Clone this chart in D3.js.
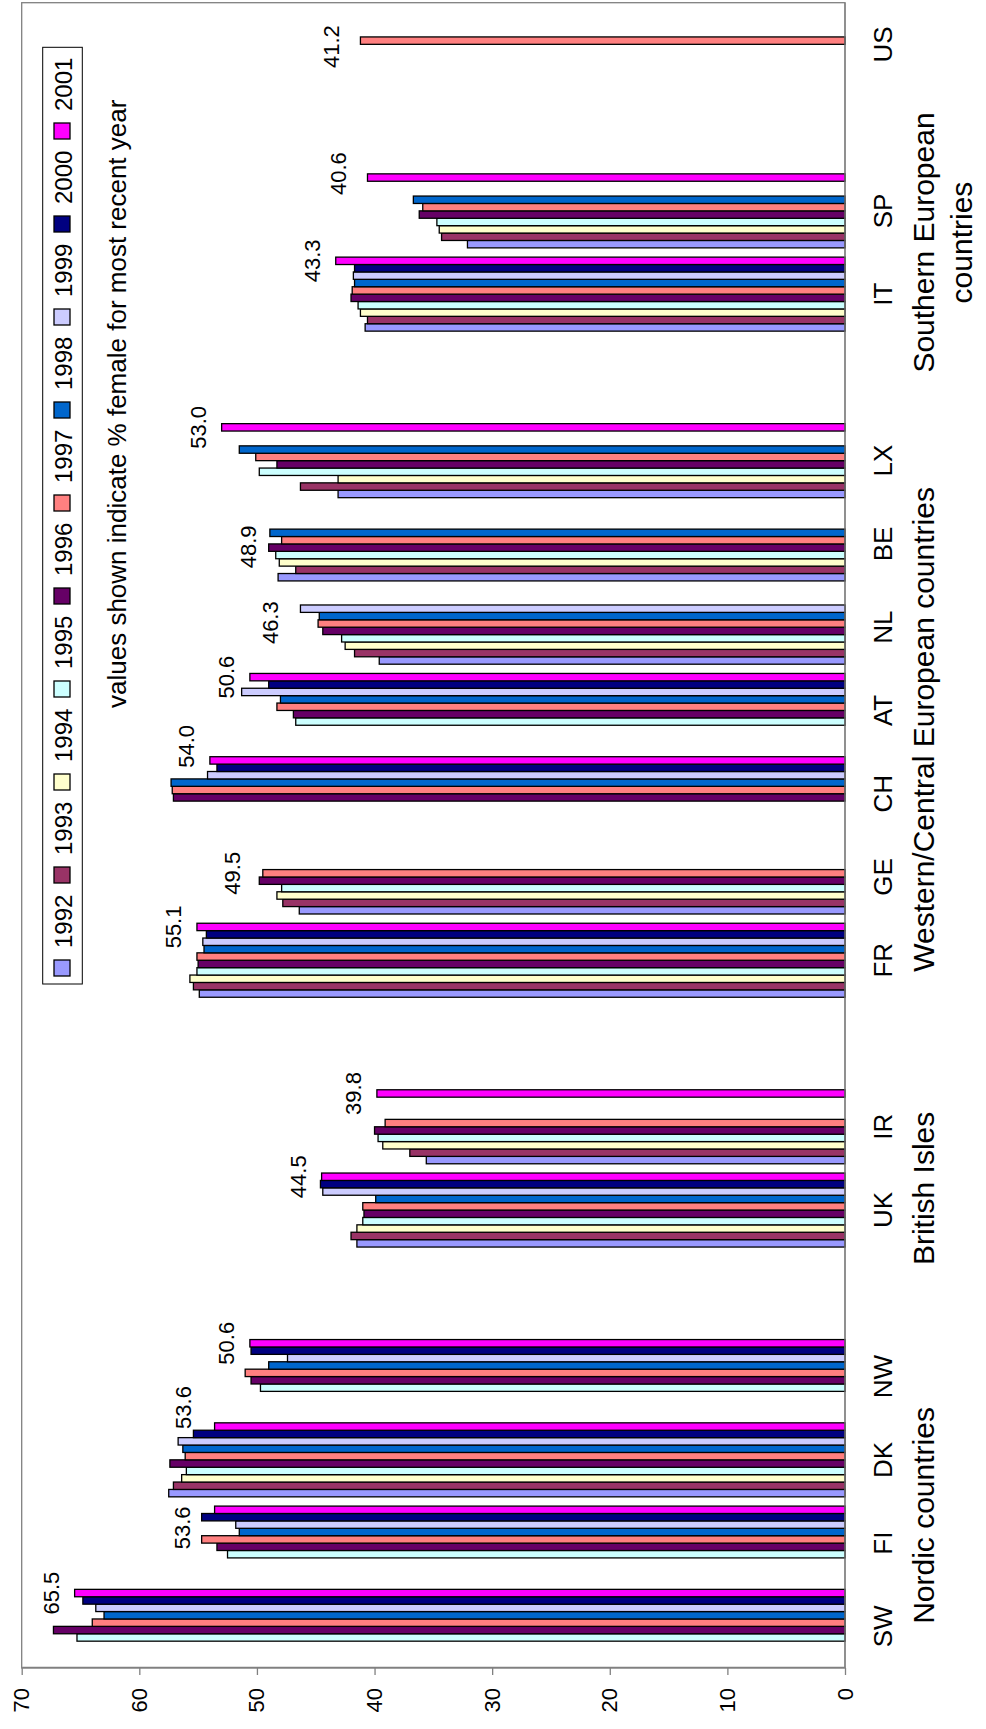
<!DOCTYPE html>
<html><head><meta charset="utf-8">
<script src="https://cdn.jsdelivr.net/npm/d3@7"></script>
<style>
body{margin:0;background:#fff}
svg{display:block}
text{font-family:"Liberation Sans",Arial,Helvetica,sans-serif;fill:#000}
</style>
</head><body><div id="chart"></div>
<script>
// categories (blank entries are empty spacer slots on the category axis)
const categories = ["SW","FI","DK","NW","","UK","IR","","FR","GE","CH","AT","NL","BE","LX","","IT","SP","","US"];
const years = ["1992","1993","1994","1995","1996","1997","1998","1999","2000","2001"];
const colors = ["#9999FF","#993366","#FFFFCC","#CCFFFF","#660066","#FF8080","#0066CC","#CCCCFF","#000080","#FF00FF"];
const N = null;
//                SW    FI    DK    NW       UK    IR       FR    GE    CH    AT    NL    BE    LX       IT    SP       US
const v1992 = [N,    N,    57.5, N,    N, 41.5, 35.6, N, 54.9, 46.4, N,    N,    39.6, 48.2, 43.1, N, 40.8, 32.1, N, N];
const v1993 = [N,    N,    57.1, N,    N, 42.0, 37.0, N, 55.4, 47.8, N,    N,    41.7, 46.7, 46.3, N, 40.6, 34.3, N, N];
const v1994 = [N,    N,    56.4, N,    N, 41.5, 39.3, N, 55.7, 48.3, N,    N,    42.5, 48.1, 43.1, N, 41.2, 34.5, N, N];
const v1995 = [65.3, 52.5, 56.0, 49.7, N, 41.0, 39.7, N, 55.1, 47.9, N,    46.7, 42.8, 48.4, 49.8, N, 41.4, 34.7, N, N];
const v1996 = [67.3, 53.4, 57.4, 50.5, N, 40.9, 40.0, N, 55.0, 49.8, 57.1, 46.9, 44.4, 49.0, 48.3, N, 42.0, 36.2, N, N];
const v1997 = [64.0, 54.7, 56.1, 51.0, N, 41.0, 39.1, N, 55.1, 49.5, 57.2, 48.3, 44.8, 47.9, 50.1, N, 41.9, 35.9, N, 41.2];
const v1998 = [63.0, 51.5, 56.3, 49.0, N, 39.9, N,    N, 54.5, N,    57.3, 48.0, 44.7, 48.9, 51.5, N, 41.7, 36.7, N, N];
const v1999 = [63.7, 51.8, 56.7, 47.4, N, 44.4, N,    N, 54.6, N,    54.2, 51.3, 46.3, N,    N,    N, 41.8, N,    N, N];
const v2000 = [64.8, 54.7, 55.4, 50.5, N, 44.6, N,    N, 54.3, N,    53.4, 49.0, N,    N,    N,    N, 41.7, N,    N, N];
const v2001 = [65.5, 53.6, 53.6, 50.6, N, 44.5, 39.8, N, 55.1, N,    54.0, 50.6, N,    N,    53.0, N, 43.3, 40.6, N, N];
const seriesValues = [v1992,v1993,v1994,v1995,v1996,v1997,v1998,v1999,v2000,v2001];
const tickValues = [0,10,20,30,40,50,60,70];
const groupLabels = [
  {lines:["Nordic countries"], first:0, last:3},
  {lines:["British Isles"], first:5, last:6},
  {lines:["Western/Central European countries"], first:8, last:14},
  {lines:["Southern European","countries"], first:16, last:17}
];
const legendNote = "values shown indicate % female for most recent year";

// ---- layout (chart drawn upright, then rotated -90deg into the page) ----
const PW = 986, PH = 1729;
const plot = {left:61, right:1726.3, top:21.7, bottom:845};
// hand-placed label nudges as in the original: [shift along category axis, extra gap above bar]
const labelNudge = {FI:[-18,9], DK:[19,8], CH:[14,0], NL:[-14,6], BE:[-14,-2], GE:[0,7], SP:[4,5], US:[-6,5]};
const groupNudge = [-14,-20,-19,10];

const svg = d3.select("#chart").append("svg").attr("width",PW).attr("height",PH);
svg.append("rect").attr("width",PW).attr("height",PH).attr("fill","#fff");
const g = svg.append("g").attr("transform",`translate(0,${PH}) rotate(-90)`);

const x = d3.scaleBand().domain(d3.range(categories.length)).range([plot.left, plot.right]);
const xs = d3.scaleBand().domain(years).range([0, x.bandwidth()]).paddingOuter(0.625);
const y = d3.scaleLinear().domain([0,70]).range([plot.bottom, plot.top]);

// plot border
g.append("rect").attr("x",plot.left).attr("y",plot.top)
  .attr("width",plot.right-plot.left).attr("height",plot.bottom-plot.top)
  .attr("fill","none").attr("stroke","#808080").attr("stroke-width",1.3);

// bars
years.forEach((yr,j)=>{
  const vals = seriesValues[j];
  g.append("g").selectAll("rect")
    .data(vals.map((v,i)=>({i,v})).filter(d=>d.v!==null))
    .join("rect")
    .attr("x",d=>x(d.i)+xs(yr))
    .attr("width",xs.bandwidth())
    .attr("y",d=>y(d.v))
    .attr("height",d=>y(0)-y(d.v))
    .attr("fill",colors[j])
    .attr("stroke","#000").attr("stroke-width",1.3);
});

// value labels: most recent year per country
categories.forEach((c,i)=>{
  let jLast=-1;
  for(let j=years.length-1;j>=0;j--){ if(seriesValues[j][i]!==null){jLast=j;break;} }
  if(jLast<0) return;
  const v = seriesValues[jLast][i];
  const nd = labelNudge[c] || [0,0];
  g.append("text")
    .attr("x",x(i)+xs(years[jLast])+xs.bandwidth()/2 + nd[0])
    .attr("y",y(v)-16-nd[1])
    .attr("text-anchor","middle")
    .attr("font-size",22)
    .text(v.toFixed(1));
});

// value axis
const ax = g.append("g").attr("transform",`translate(${plot.left},0)`)
  .call(d3.axisLeft(y).tickValues(tickValues).tickSize(7).tickSizeOuter(0).tickPadding(13).tickFormat(d3.format("d")));
ax.select(".domain").attr("stroke","#808080").attr("stroke-width",1.3);
ax.selectAll(".tick line").attr("stroke","#808080").attr("stroke-width",1.3);
ax.selectAll(".tick text").attr("font-size",22).attr("font-family",'"Liberation Sans",Arial,sans-serif').attr("fill","#000");

// category axis line
g.append("line").attr("x1",plot.left).attr("x2",plot.right).attr("y1",plot.bottom).attr("y2",plot.bottom)
  .attr("stroke","#808080").attr("stroke-width",1.3);

// category labels
g.append("g").selectAll("text").data(categories.map((c,i)=>({c,i})).filter(d=>d.c!==""))
  .join("text")
  .attr("x",d=>x(d.i)+x.bandwidth()/2)
  .attr("y",891.5)
  .attr("text-anchor","middle")
  .attr("font-size",26)
  .text(d=>d.c);

// group labels
groupLabels.forEach((gr,k0)=>{
  const cx = (x(gr.first) + x(gr.last)+x.bandwidth())/2 + groupNudge[k0];
  const t = g.append("text").attr("text-anchor","middle").attr("font-size",30);
  gr.lines.forEach((ln,k)=>{
    t.append("tspan").attr("x",cx).attr("y",934+k*38).text(ln);
  });
});

// legend
const lg = g.append("g");
lg.append("rect").attr("x",745).attr("y",42.7).attr("width",936.7).attr("height",39.6)
  .attr("fill","#fff").attr("stroke","#000").attr("stroke-width",1);
years.forEach((yr,j)=>{
  const u = 753 + j*93;
  lg.append("rect").attr("x",u).attr("y",54).attr("width",16).attr("height",16)
    .attr("fill",colors[j]).attr("stroke","#000").attr("stroke-width",1.3);
  lg.append("text").attr("x",u+28).attr("y",71.5).attr("font-size",24).text(yr);
});

// note
g.append("text").attr("x",1021).attr("y",126).attr("font-size",26).text(legendNote);
</script>
</body></html>
